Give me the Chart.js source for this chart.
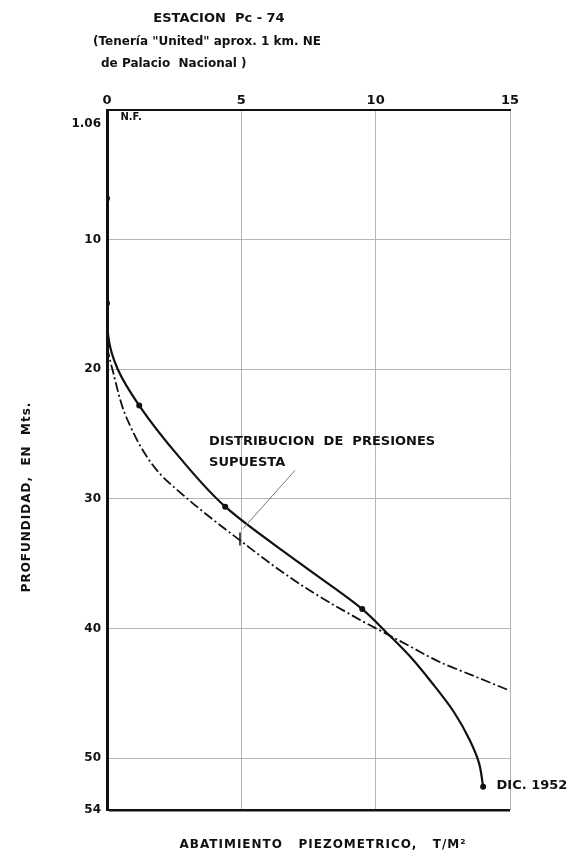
<!DOCTYPE html>
<html>
<head>
<meta charset="utf-8">
<script src="https://cdn.jsdelivr.net/npm/chart.js@4/dist/chart.umd.min.js"></script>
<style>
  html, body { margin: 0; padding: 0; background: #fff; }
</style>
</head>
<body>
<canvas id="chart" width="575" height="861"></canvas>
<script>
// data
const titleLines = ["ESTACION  Pc - 74", "(Tenería \"United\" aprox. 1 km. NE", "de Palacio  Nacional )"];
const xTicks = [0, 5, 10, 15];
const yTicks = [1.06, 10, 20, 30, 40, 50, 54];

// measured curve (abatimiento, profundidad)
const measX = [0, 0, 0, 0.05, 0.4, 1.2, 2.7, 4.4, 7.2, 9.5, 10.4, 11.3, 12.1, 12.9, 13.5, 13.85, 14.0];
const measY = [0, 6.8, 14.9, 17.5, 20, 22.8, 26.8, 30.6, 35, 38.5, 40.3, 42.2, 44.2, 46.4, 48.6, 50.4, 52.2];
const measDots = [0, 1, 1, 0, 0, 1, 0, 1, 0, 1, 0, 0, 0, 0, 0, 0, 1];

// assumed pressure distribution
const supX = [0, 0.2, 0.74, 1.86, 3.0, 4.95, 7.2, 9.3, 10.3, 11.3, 12.4, 13.7, 15];
const supY = [18.3, 20, 23.8, 27.8, 30, 33.2, 36.6, 39.2, 40.3, 41.4, 42.6, 43.7, 44.8];

const FONT = "'DejaVu Sans', sans-serif";

const toPts = (xs, ys) => xs.map((x, i) => ({ x: x, y: ys[i] }));

const textPlugin = {
  id: 'texts',
  afterDraw(chart) {
    const ctx = chart.ctx;
    const xs = chart.scales.x, ys = chart.scales.y;
    ctx.save();
    ctx.fillStyle = '#111';
    ctx.textBaseline = 'middle';

    // title
    ctx.font = 'bold 13px ' + FONT;
    ctx.textAlign = 'center';
    ctx.fillText(titleLines[0], 219, 19);
    ctx.textAlign = 'left';
    ctx.font = 'bold 12px ' + FONT;
    ctx.fillText(titleLines[1], 93, 42);
    ctx.fillText(titleLines[2], 101, 64);

    // axis titles
    ctx.font = 'bold 12px ' + FONT;
    ctx.textAlign = 'center';
    ctx.letterSpacing = '1px';
    ctx.fillText("ABATIMIENTO   PIEZOMETRICO,   T/M²", 323, 845);
    ctx.save();
    ctx.translate(27, 497);
    ctx.rotate(-Math.PI / 2);
    ctx.fillText("PROFUNDIDAD,  EN  Mts.", 0, 0);
    ctx.restore();
    ctx.letterSpacing = '0px';

    // annotations
    ctx.textAlign = 'left';
    ctx.font = 'bold 10px ' + FONT;
    ctx.fillText("N.F.", xs.getPixelForValue(0.5), ys.getPixelForValue(0.6));
    ctx.font = 'bold 13px ' + FONT;
    ctx.fillText("DISTRIBUCION  DE  PRESIONES", xs.getPixelForValue(3.8), ys.getPixelForValue(25.6));
    ctx.fillText("SUPUESTA", xs.getPixelForValue(3.8), ys.getPixelForValue(27.2));
    ctx.fillText("DIC. 1952", xs.getPixelForValue(14.5), ys.getPixelForValue(52.1));

    // leader line
    ctx.strokeStyle = '#777';
    ctx.lineWidth = 1;
    ctx.beginPath();
    ctx.moveTo(xs.getPixelForValue(7.0), ys.getPixelForValue(27.8));
    ctx.lineTo(xs.getPixelForValue(5.06), ys.getPixelForValue(32.3));
    ctx.stroke();
    ctx.strokeStyle = '#111';
    ctx.lineWidth = 1.5;
    ctx.beginPath();
    ctx.moveTo(xs.getPixelForValue(4.95), ys.getPixelForValue(32.6));
    ctx.lineTo(xs.getPixelForValue(4.95), ys.getPixelForValue(33.6));
    ctx.stroke();
    ctx.restore();
  }
};

new Chart("chart", {
  type: "scatter",
  data: {
    datasets: [{
      data: toPts(measX, measY),
      showLine: true,
      indexAxis: 'y',
      cubicInterpolationMode: 'monotone',
      borderColor: '#111',
      borderWidth: 2.2,
      pointRadius: measDots.map(d => d ? 3 : 0),
      pointBackgroundColor: '#111',
      pointBorderWidth: 0
    }, {
      data: toPts(supX, supY),
      showLine: true,
      indexAxis: 'y',
      cubicInterpolationMode: 'monotone',
      borderColor: '#111',
      borderWidth: 1.8,
      borderDash: [10, 3, 2, 3],
      pointRadius: 0
    }]
  },
  options: {
    responsive: false,
    animation: false,
    layout: { padding: { left: 60, top: 80, right: 65, bottom: 51 } },
    plugins: {
      legend: { display: false },
      tooltip: { enabled: false }
    },
    scales: {
      x: {
        position: 'top',
        min: 0, max: 15,
        afterBuildTicks: s => { s.ticks = xTicks.map(v => ({ value: v })); },
        afterFit: s => { s.height = 30; },
        ticks: { color: '#111', padding: 2, font: { family: FONT, size: 13, weight: 'bold' } },
        grid: {
          drawTicks: false,
          color: c => c.tick && c.tick.value === 0 ? 'rgba(0,0,0,0)' : '#b5b5b5',
          lineWidth: 1
        },
        border: { color: '#111', width: 2 }
      },
      y: {
        reverse: true,
        min: 0, max: 54,
        afterBuildTicks: s => { s.ticks = yTicks.map(v => ({ value: v })); },
        afterFit: s => { s.width = 47; },
        ticks: { color: '#111', padding: 6, font: { family: FONT, size: 12, weight: 'bold' } },
        grid: {
          drawTicks: false,
          color: c => {
            const v = c.tick ? c.tick.value : null;
            if (v === 1.06) return 'rgba(0,0,0,0)';
            if (v === 54) return '#111';
            return '#b5b5b5';
          },
          lineWidth: c => (c.tick && c.tick.value === 54) ? 2.5 : 1
        },
        border: { color: '#111', width: 3 }
      }
    }
  },
  plugins: [textPlugin]
});
</script>
</body>
</html>
